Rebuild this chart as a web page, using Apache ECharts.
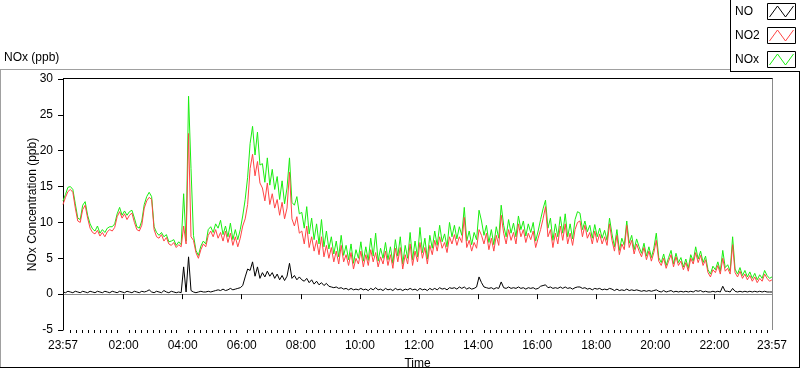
<!DOCTYPE html>
<html><head><meta charset="utf-8">
<script src="https://cdn.jsdelivr.net/npm/echarts@6/dist/echarts.min.js"></script>
<style>html,body{margin:0;padding:0;background:#fff;}#c{width:800px;height:369px;}</style>
</head><body><div id="c"></div>
<script>
// ---- data (5-minute samples starting at 23:57) ----
const startClock = "23:57";
const stepMinutes = 5;
const xTickLabels = ["23:57","02:00","04:00","06:00","08:00","10:00","12:00","14:00","16:00","18:00","20:00","22:00","23:57"];
const yMin = -5, yMax = 30, yStep = 5;
const seriesNames = ["NO", "NO2", "NOx"];

const no = [
0.3,0.2,0.4,0.3,0.2,0.4,0.3,0.2,0.4,0.3,0.2,0.4,
0.3,0.2,0.4,0.3,0.2,0.4,0.3,0.2,0.4,0.3,0.2,0.4,
0.3,0.2,0.4,0.3,0.2,0.4,0.3,0.2,0.4,0.3,0.4,0.6,
0.3,0.2,0.4,0.3,0.2,0.5,0.3,0.2,0.4,0.3,0.2,0.3,
0.2,3.8,0.3,5.2,0.5,0.3,0.2,0.3,0.4,0.3,0.3,0.4,
0.3,0.4,0.5,0.6,0.5,0.7,0.5,0.6,0.8,0.6,0.7,0.8,
0.9,1.2,2.4,3.5,3.3,4.5,2.5,3.8,2.2,3.0,2.4,3.2,
2.5,3.0,2.2,2.8,2.0,2.6,1.9,2.5,4.3,2.2,2.6,2.0,
2.4,2.0,1.8,2.2,1.6,2.0,1.4,1.8,1.3,1.6,1.2,1.5,
1.1,1.0,0.9,1.0,0.8,0.9,0.7,0.8,0.6,0.8,0.6,0.7,
0.6,0.8,0.6,0.7,0.5,0.8,0.6,0.9,0.6,0.7,0.5,0.8,
0.6,0.7,0.5,0.8,0.6,0.7,0.5,0.7,0.6,0.8,0.6,0.7,
0.5,0.8,0.6,0.7,0.5,0.8,0.6,0.8,0.6,0.9,0.7,0.8,
0.6,0.9,0.8,0.9,0.7,1.0,0.8,1.0,0.7,0.9,0.7,0.8,
1.0,2.4,1.6,1.0,0.9,0.8,0.9,0.7,0.9,0.8,1.7,0.9,
0.8,1.0,0.8,0.9,0.8,1.0,0.8,0.9,0.7,0.9,0.8,0.9,
0.7,0.8,1.1,1.2,1.3,0.9,1.0,0.8,0.9,0.8,1.0,0.8,
1.0,0.8,0.9,0.7,0.9,1.0,1.0,0.8,0.9,0.7,0.8,0.6,
0.8,0.7,0.8,0.6,0.7,0.6,0.8,0.7,0.5,0.7,0.5,0.6,
0.5,0.7,0.5,0.6,0.5,0.6,0.5,0.4,0.5,0.4,0.5,0.4,
0.5,0.6,0.4,0.3,0.5,0.3,0.4,0.5,0.3,0.4,0.3,0.4,
0.3,0.4,0.3,0.4,0.3,0.5,0.4,0.5,0.3,0.4,0.3,0.3,
0.4,0.3,0.4,0.3,1.1,0.4,0.4,0.3,0.8,0.4,0.3,0.4,
0.3,0.4,0.3,0.4,0.3,0.4,0.3,0.4,0.3,0.4,0.3,0.3,
0.3];

const no2 = [
12.5,13.5,14.3,14.6,14.2,12.0,10.2,10.0,11.8,12.4,10.6,9.2,
8.6,8.4,8.9,8.1,8.6,8.0,8.7,9.0,8.8,9.3,10.8,11.5,
10.6,11.2,10.4,11.0,11.3,10.0,9.0,8.8,9.6,12.0,13.0,13.5,
13.2,9.0,8.0,7.8,8.3,7.4,7.9,7.0,6.8,7.2,6.5,6.9,
6.6,9.5,7.0,22.4,8.0,7.5,5.8,5.0,6.2,7.0,6.6,8.2,
8.8,8.0,9.0,7.8,8.6,7.4,8.8,7.2,8.5,6.8,8.0,6.6,
7.8,9.5,10.5,12.5,17.5,19.5,16.5,18.5,15.5,14.8,13.0,15.5,
12.5,14.0,12.0,13.2,11.0,12.8,10.5,12.0,17.0,10.5,9.5,10.8,
8.5,8.8,7.0,9.5,6.5,8.0,6.0,7.5,5.5,8.0,5.2,6.8,
5.0,6.5,4.5,6.0,4.2,6.8,4.5,5.5,4.0,5.8,3.5,5.0,
4.2,6.0,3.8,5.5,4.0,6.2,4.5,5.8,3.8,5.2,4.2,6.0,
4.0,5.5,3.6,6.4,4.5,6.5,3.5,5.5,4.2,7.0,4.0,6.0,
4.5,7.2,5.0,6.5,4.2,6.8,5.5,7.5,6.0,8.0,6.4,7.2,
5.8,8.0,7.0,8.3,6.8,8.0,7.2,10.7,6.5,7.5,6.0,7.2,
6.4,9.0,8.2,7.0,8.5,6.2,7.8,6.0,8.2,6.8,11.0,8.5,
7.0,9.0,7.5,8.6,7.0,9.8,8.0,9.0,7.2,8.5,7.6,8.8,
6.5,7.8,9.0,10.5,12.2,8.0,9.0,6.5,8.5,7.0,9.5,7.5,
9.8,7.0,8.5,6.8,9.0,10.0,10.2,8.0,9.6,7.8,8.6,7.0,
8.8,7.2,8.4,7.0,8.0,6.8,9.8,7.5,6.0,8.2,5.5,7.0,
6.2,9.6,6.5,7.5,5.6,7.0,6.0,5.2,6.5,4.8,6.0,4.6,
5.8,7.5,4.6,4.0,5.0,3.6,4.6,5.5,3.8,5.2,4.0,4.6,
3.4,4.4,3.2,5.0,4.2,5.8,4.4,5.4,4.0,4.8,3.0,2.4,
3.4,3.0,4.0,2.8,5.0,3.2,3.6,2.8,6.9,3.0,2.4,3.2,
2.2,2.8,2.0,2.6,1.8,2.4,1.6,2.2,1.8,2.8,2.2,1.8,
2.0];

const nox = [
13.0,13.9,14.9,15.0,14.6,12.6,10.6,10.4,12.4,12.9,11.0,9.8,
9.1,8.8,9.5,8.5,9.0,8.6,9.2,9.4,9.4,9.8,11.2,12.1,
11.0,11.6,11.0,11.5,11.7,10.6,9.4,9.2,10.2,12.5,13.6,14.2,
13.6,9.4,8.6,8.2,8.6,8.0,8.3,7.3,7.4,7.6,6.8,7.3,
6.9,14.0,7.4,27.6,17.5,8.2,6.1,5.4,6.7,7.4,7.0,9.0,
9.4,8.6,9.8,9.2,10.3,8.3,9.5,8.0,9.9,7.6,9.0,7.6,
9.0,10.9,13.2,16.3,21.0,23.4,19.4,22.6,18.0,18.2,15.6,19.0,
15.2,17.4,14.6,16.4,13.2,15.8,12.6,14.8,19.0,12.8,12.4,13.6,
11.2,11.4,9.2,12.2,8.4,10.6,7.6,9.8,7.0,10.4,6.6,8.8,
6.3,8.0,5.6,7.4,5.2,8.2,5.4,6.8,4.8,7.0,4.3,6.2,
5.0,7.3,4.6,6.6,4.7,7.8,5.3,8.5,4.6,6.4,5.0,7.2,
4.8,6.6,4.3,7.6,5.3,8.0,4.2,6.8,5.0,8.6,4.8,7.4,
5.2,9.3,5.8,7.8,4.9,8.2,6.4,8.8,6.8,9.6,7.3,8.4,
6.6,10.0,8.0,9.6,7.7,9.4,8.2,12.1,7.4,8.8,6.9,8.6,
7.6,11.7,10.2,8.2,9.6,7.2,9.0,6.9,9.4,7.8,12.4,9.6,
8.0,10.4,8.5,9.9,8.0,10.9,9.0,10.2,8.1,9.8,8.6,10.0,
7.4,8.8,10.4,11.9,13.1,9.2,10.6,7.5,9.8,8.0,10.8,8.5,
11.2,8.0,9.8,7.7,10.4,11.5,11.3,9.0,10.2,8.7,9.6,7.8,
9.7,8.0,9.2,7.8,8.9,7.5,10.6,8.4,6.6,9.0,6.1,7.8,
6.8,10.2,7.1,8.2,6.2,7.7,6.6,5.7,7.1,5.3,6.6,5.1,
6.4,8.5,5.1,4.4,5.6,4.0,5.1,6.1,4.2,5.7,4.4,5.1,
3.8,4.9,3.6,5.5,4.6,6.6,4.9,6.0,4.4,5.3,3.4,2.8,
3.9,3.4,4.5,3.2,6.1,3.7,4.1,3.2,8.0,3.5,2.8,3.7,
2.6,3.3,2.4,3.1,2.2,2.9,2.0,2.7,2.2,3.3,2.6,2.2,
2.4];

// ---- layout / style ----
const FONT = "'Liberation Sans',Arial,sans-serif";
const FS = 12;
const G = {left: 63, right: 28, top: 79, bottom: 39};
const W = 800, H = 369;
const colors = {NO: '#000000', NO2: '#ff4545', NOx: '#1aee10'};

function clockToMin(s){ const p = s.split(':').map(Number); return p[0]*60 + p[1]; }
const startMin = clockToMin(startClock);
const spanMin = 1440;
const xTickPos = xTickLabels.map((s, i) => i === xTickLabels.length - 1 ? spanMin : (clockToMin(s) - startMin + 1440) % 1440);
const minorPos = [];
for (let c = 12; c < 1440; c += 12) {
  if (c % 120 === 0) continue;
  minorPos.push((c - startMin + 1440) % 1440);
}
const toXY = arr => arr.map((v, i) => [i * stepMinutes, v]);

const chart = echarts.init(document.getElementById('c'), null, {renderer: 'canvas'});

const pl = G.left, pr = W - G.right, pt = G.top, pb = H - G.bottom;
function line(x1, y1, x2, y2, c) {
  return {type: 'line', silent: true, shape: {x1, y1, x2, y2}, style: {stroke: c, lineWidth: 1}, z: 100};
}
function legendItem(name, i) {
  const y0 = 3 + i * 24;
  return [
    {type: 'text', left: 735, top: y0 + 3, style: {text: name, font: FS + 'px ' + FONT, fill: '#000'}, z: 101},
    {type: 'rect', shape: {x: 767.5, y: y0 + 0.5, width: 28, height: 16}, style: {fill: '#fff', stroke: '#000', lineWidth: 1}, z: 101},
    {type: 'polyline', shape: {points: [[769.5, y0 + 14], [777.5, y0 + 3], [785.5, y0 + 14], [793.5, y0 + 3]]},
     style: {stroke: colors[name], lineWidth: 1, fill: null}, z: 102}
  ];
}

const option = {
  animation: false,
  backgroundColor: '#fff',
  grid: {left: G.left, right: G.right, top: G.top, bottom: G.bottom, containLabel: false, outerBoundsMode: 'none'},
  xAxis: [{
    type: 'value', min: 0, max: spanMin, position: 'bottom',
    name: 'Time', nameLocation: 'middle', nameGap: 28, nameMoveOverlap: false,
    nameTextStyle: {fontFamily: FONT, fontSize: FS, color: '#000'},
    axisLine: {show: true, lineStyle: {color: '#8a8a8a', width: 1}},
    axisTick: {show: true, length: 5, lineStyle: {color: '#000'}, customValues: xTickPos},
    axisLabel: {show: true, customValues: xTickPos, margin: 10, fontFamily: FONT, fontSize: FS, color: '#000',
      formatter: v => { const k = xTickPos.indexOf(v); return k >= 0 ? xTickLabels[k] : ''; }},
    splitLine: {show: false}
  }, {
    type: 'value', min: 0, max: spanMin, position: 'bottom', gridIndex: 0,
    axisLine: {show: false},
    axisTick: {show: true, length: 3, lineStyle: {color: '#000'}, customValues: minorPos},
    axisLabel: {show: false},
    splitLine: {show: false}
  }],
  yAxis: {
    type: 'value', min: yMin, max: yMax, interval: yStep,
    name: 'NOx Concentration (ppb)', nameLocation: 'middle', nameGap: 24, nameRotate: 90, nameMoveOverlap: false,
    nameTextStyle: {fontFamily: FONT, fontSize: FS, color: '#000'},
    axisLine: {show: true, lineStyle: {color: '#000', width: 1}},
    axisTick: {show: true, length: 5, lineStyle: {color: '#000'}},
    axisLabel: {margin: 10, fontFamily: FONT, fontSize: FS, color: '#000'},
    splitLine: {show: false}
  },
  series: [
    {name: 'NOx', type: 'line', data: toXY(nox), showSymbol: false, symbol: 'none', lineStyle: {color: colors.NOx, width: 1}, z: 2},
    {name: 'NO2', type: 'line', data: toXY(no2), showSymbol: false, symbol: 'none', lineStyle: {color: colors.NO2, width: 1}, z: 3},
    {name: 'NO', type: 'line', data: toXY(no), showSymbol: false, symbol: 'none', lineStyle: {color: colors.NO, width: 1}, z: 4}
  ],
  graphic: [].concat(
    [
      line(0, 69.5, 730, 69.5, '#a0a0a0'),
      line(0.5, 69.5, 0.5, 368, '#a0a0a0'),
      line(0, 367.5, 800, 367.5, '#000'),
      line(799.5, 71, 799.5, 368, '#000'),
      line(pl, pt - 0.5, pr + 1, pt - 0.5, '#000'),
      line(pr + 0.5, pt - 0.5, pr + 0.5, pb, '#8a8a8a'),
      {type: 'text', left: 4, top: 52, style: {text: 'NOx (ppb)', font: FS + 'px ' + FONT, fill: '#000'}, z: 101},
      {type: 'rect', shape: {x: 730, y: 0, width: 70, height: 71}, style: {fill: '#fff'}, z: 100},
      line(730.5, 0, 730.5, 72, '#000'),
      line(730, 71.5, 800, 71.5, '#000')
    ],
    legendItem('NO', 0), legendItem('NO2', 1), legendItem('NOx', 2)
  )
};
chart.setOption(option);
</script>
</body></html>
